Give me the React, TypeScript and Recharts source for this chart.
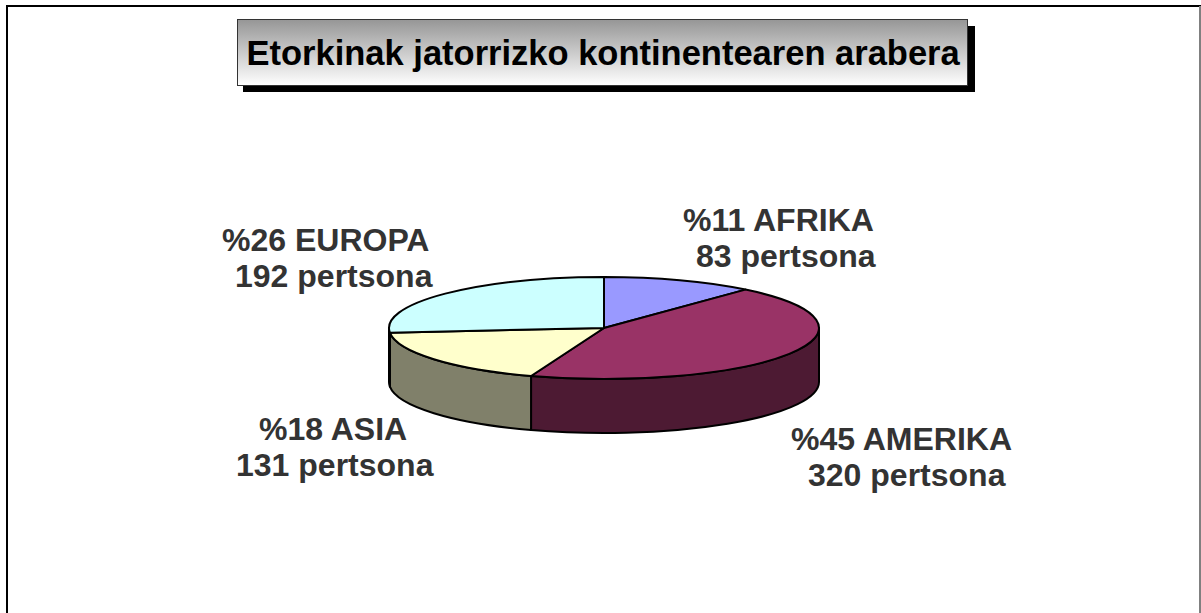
import {Pie, PieChart} from 'recharts'

const continents = ['AFRIKA', 'AMERIKA', 'ASIA', 'EUROPA']
const people = [83, 320, 131, 192]
const percents = [11, 45, 18, 26]
const topColors = ['#9999FF', '#993366', '#FFFFCC', '#CCFFFF']
const wallColors = ['#4D4D80', '#4D1A33', '#80806A', '#668080']

const chartData = continents.map((name, i) => ({
	name,
	value: people[i],
	percent: percents[i],
}))

const FONT = '"Liberation Sans", Arial, sans-serif'
const SQUASH = 51 / 215
const DEPTH = 54

// where each label's two lines start, in continent order
const labelSpots = [
	[[683, 231], [696, 267]],
	[[791, 450], [808, 486]],
	[[259, 440], [236, 476]],
	[[222, 251], [235, 287]],
]

const pt = (cx: number, cy: number, r: number, deg: number): [number, number] => {
	const a = (deg * Math.PI) / 180
	return [cx + r * Math.cos(a), cy - r * SQUASH * Math.sin(a)]
}

const TopSlice = (props: any) => {
	const {cx, cy, outerRadius: r, startAngle, endAngle, fill} = props
	const [x1, y1] = pt(cx, cy, r, startAngle)
	const [x2, y2] = pt(cx, cy, r, endAngle)
	const large = Math.abs(startAngle - endAngle) > 180 ? 1 : 0
	const d = `M${cx},${cy} L${x1},${y1} A${r},${r * SQUASH} 0 ${large} 1 ${x2},${y2} Z`
	return <path d={d} fill={fill} stroke="#000" strokeWidth={2} strokeLinejoin="round" />
}

// only the part of a slice facing the viewer gets a wall (angles -180..0 on screen)
const WallSlice = (props: any) => {
	const {cx, cy, outerRadius: r, startAngle, endAngle, fill} = props
	const from = Math.min(startAngle, -0)
	const to = Math.max(endAngle, -180)
	if (from <= to) return null
	const [x1, y1] = pt(cx, cy, r, from)
	const [x2, y2] = pt(cx, cy, r, to)
	const rr = `${r},${r * SQUASH}`
	const d = `M${x1},${y1} A${rr} 0 0 1 ${x2},${y2} L${x2},${y2 + DEPTH} A${rr} 0 0 0 ${x1},${y1 + DEPTH} Z`
	return <path d={d} fill={fill} stroke="#000" strokeWidth={2} strokeLinejoin="round" />
}

const SliceLabel = (props: any) => {
	const {index} = props
	const row = chartData[index]
	const spots = labelSpots[index]
	return (
		<text fontFamily={FONT} fontWeight="bold" fontSize={32} fill="#333333">
			<tspan x={spots[0][0]} y={spots[0][1]}>{`%${row.percent} ${row.name}`}</tspan>
			<tspan x={spots[1][0]} y={spots[1][1]}>{`${row.value} pertsona`}</tspan>
		</text>
	)
}

const App = () => {
	return (
		<div style={{position: 'absolute', left: 0, top: 0, width: 1201, height: 613, overflow: 'hidden', background: '#fff'}}>
			<PieChart width={1201} height={613} margin={{top: 0, right: 0, bottom: 0, left: 0}}>
				<defs>
					<linearGradient id="titleFill" x1="0" y1="0" x2="0" y2="1">
						<stop offset="0" stopColor="#969696" />
						<stop offset="1" stopColor="#ffffff" />
					</linearGradient>
				</defs>
				<rect x={7} y={6} width={1193} height={640} fill="none" stroke="#000" strokeWidth={2} />
				<line x1={1200} y1={6} x2={1200} y2={613} stroke="#808080" strokeWidth={2} />
				<rect x={243} y={26} width={732} height={66} fill="#000" />
				<rect x={237.5} y={19.5} width={730} height={66} fill="url(#titleFill)" stroke="#333" strokeWidth={1} />
				<text x={246.5} y={65} fontFamily={FONT} fontWeight="bold" fontSize={34.5} fill="#000">
					Etorkinak jatorrizko kontinentearen arabera
				</text>
				<Pie
					data={chartData}
					dataKey="value"
					nameKey="name"
					cx={604}
					cy={328}
					outerRadius={215}
					startAngle={90}
					endAngle={-270}
					paddingAngle={0}
					stroke="none"
					isAnimationActive={false}
					shape={(p: any) => <WallSlice {...p} fill={wallColors[p.index]} />}
				/>
				<Pie
					data={chartData}
					dataKey="value"
					nameKey="name"
					cx={604}
					cy={328}
					outerRadius={215}
					startAngle={90}
					endAngle={-270}
					paddingAngle={0}
					stroke="none"
					isAnimationActive={false}
					labelLine={false}
					label={SliceLabel}
					shape={(p: any) => <TopSlice {...p} fill={topColors[p.index]} />}
				/>
			</PieChart>
		</div>
	)
}

export default App
